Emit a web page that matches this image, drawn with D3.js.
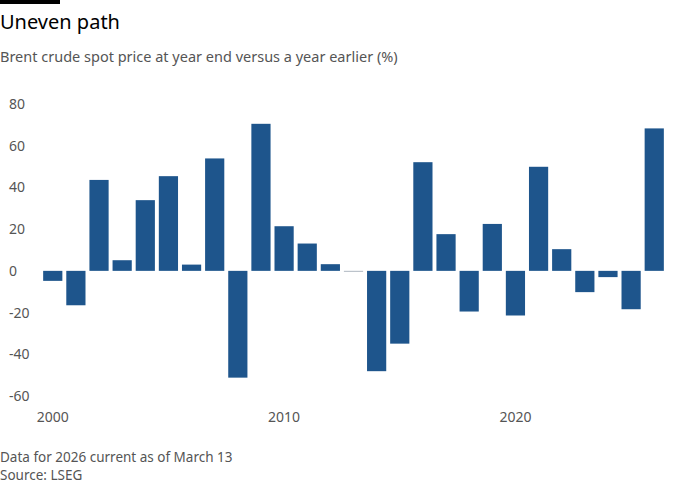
<!DOCTYPE html>
<html>
<head>
<meta charset="utf-8">
<script src="https://cdn.jsdelivr.net/npm/d3@7"></script>
<style>
  body { margin: 0; background: #fff; }
  text { font-family: "Noto Sans", sans-serif; }
</style>
</head>
<body>
<svg id="chart" width="700" height="500"></svg>
<script>
var years = d3.range(2000, 2027)
var changes = [-4.8, -16.5, 43.6, 5.1, 33.9, 45.4, 3.0, 53.9, -51.2, 70.5,
  21.4, 13.1, 3.2, -0.3, -48.1, -34.9, 52.1, 17.6, -19.5, 22.5,
  -21.4, 49.9, 10.4, -10.2, -3.0, -18.4, 68.3]
var yTicks = [-60, -40, -20, 0, 20, 40, 60, 80]
var xTicks = [2000, 2010, 2020]

var svg = d3.select("#chart")

// top bar + titles
svg.append("rect").attr("x", 0).attr("y", 0).attr("width", 60).attr("height", 4)
  .attr("fill", "#000")
svg.append("text").attr("x", 0).attr("y", 29).text("Uneven path")
  .attr("font-size", 20).attr("fill", "#000")
svg.append("text").attr("x", 0).attr("y", 62)
  .text("Brent crude spot price at year end versus a year earlier (%)")
  .attr("font-size", 14.5).attr("fill", "#555")

var x = d3.scaleBand()
  .domain(years)
  .range([42, 665])
  .paddingInner(0.17)
  .paddingOuter(0.05)

var y = d3.scaleLinear()
  .domain([-60, 80])
  .range([396, 104])

// y labels
svg.selectAll(".ylab")
  .data(yTicks)
  .enter().append("text")
  .attr("class", "ylab")
  .attr("x", 9)
  .attr("y", function(d){ return y(d) + 5 })
  .attr("font-size", 14)
  .attr("fill", "#555")
  .text(function(d){ return d })

// bars
svg.selectAll(".bar")
  .data(years)
  .enter().append("rect")
  .attr("class", "bar")
  .attr("x", function(d){ return x(d) })
  .attr("width", x.bandwidth())
  .attr("y", function(d, i){ return Math.min(y(0), y(changes[i])) })
  .attr("height", function(d, i){ return Math.max(0.8, Math.abs(y(changes[i]) - y(0))) })
  .attr("fill", function(d, i){ return Math.abs(changes[i]) < 1 ? "#9aa5b1" : "#1e558c" })

// x labels
svg.selectAll(".xlab")
  .data(xTicks)
  .enter().append("text")
  .attr("class", "xlab")
  .attr("x", function(d){ return x(d) + x.bandwidth() / 2 })
  .attr("y", 422)
  .attr("text-anchor", "middle")
  .attr("font-size", 14)
  .attr("fill", "#555")
  .text(function(d){ return d })

// footer
svg.append("text").attr("x", 0).attr("y", 462)
  .text("Data for 2026 current as of March 13")
  .attr("font-size", 13.5).attr("fill", "#555")
svg.append("text").attr("x", 0).attr("y", 480)
  .text("Source: LSEG")
  .attr("font-size", 13.5).attr("fill", "#555")
</script>
</body>
</html>
